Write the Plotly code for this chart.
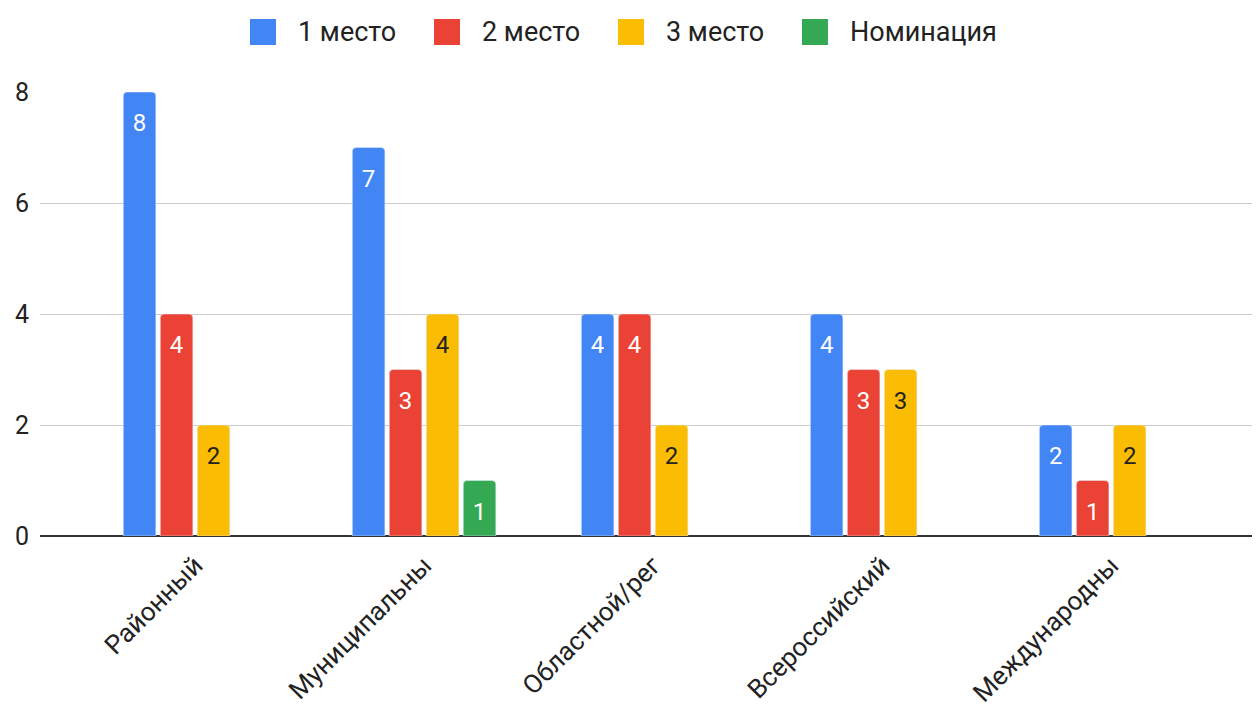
import plotly.graph_objects as go

# levels of the contests (x categories)
levels = ["Районный", "Муниципальны", "Областной/рег", "Всероссийский", "Международны"]

# places per level
first_place = [8, 7, 4, 4, 2]
second_place = [4, 3, 4, 3, 1]
third_place = [2, 4, 2, 3, 2]
nomination = [None, 1, None, None, None]

series_names = ["1 место", "2 место", "3 место", "Номинация"]
series_values = [first_place, second_place, third_place, nomination]
series_colors = ["#4285F4", "#EA4335", "#FBBC04", "#34A853"]
label_colors = ["white", "white", "#222222", "white"]

y_ticks = [0, 2, 4, 6, 8]

FONT = "Roboto, Arial, sans-serif"

# the page body has an 8px margin, so the figure is a bit smaller than the window
W, H = 1252, 702
ML, MR, MT, MB = 32, 0, 84, 174
PW, PH = W - ML - MR, H - MT - MB


def to_paper(px, py):
    """ window pixel -> paper coords """
    return (px - 8 - ML) / PW, 1 - (py - 8 - MT) / PH


fig = go.Figure()

for name, values, color, text_color in zip(series_names, series_values, series_colors, label_colors):
    # a tiny first line pushes the value a bit down from the top of the bar
    labels = ["<span style='font-size:4px'>\u00a0</span><br>%d" % v if v is not None else "" for v in values]
    fig.add_trace(go.Bar(
        x=levels, y=values, name=name,
        marker=dict(color=color, cornerradius=4),
        text=labels,
        textposition="inside",
        insidetextanchor="end",
        textfont=dict(family=FONT, size=24, color=text_color),
        textangle=0,
        showlegend=False,
    ))

# legend drawn by hand: big rounded squares like the google one
shapes = []
annotations = []
for i, (name, color) in enumerate(zip(series_names, series_colors)):
    sx = 250 + i * 184
    x0, y0 = to_paper(sx, 45)
    x1, y1 = to_paper(sx + 26, 19)
    shapes.append(dict(type="rect", xref="paper", yref="paper",
                       x0=x0, x1=x1, y0=y0, y1=y1,
                       fillcolor=color, line=dict(width=0), layer="above"))
    tx, ty = to_paper(sx + 46, 32)
    annotations.append(dict(text=name, xref="paper", yref="paper", x=tx, y=ty,
                            xanchor="left", yanchor="middle", showarrow=False,
                            font=dict(family=FONT, size=27, color="#222222")))

fig.update_layout(
    width=W, height=H,
    margin=dict(l=ML, r=MR, t=MT, b=MB),
    paper_bgcolor="white",
    plot_bgcolor="white",
    barmode="group",
    bargap=0.354,
    bargroupgap=0.12,
    uniformtext=dict(minsize=24, mode="show"),
    font=dict(family=FONT, size=24, color="#222222"),
    showlegend=False,
    shapes=shapes,
    annotations=annotations,
    xaxis=dict(
        range=[-0.677, 4.65],
        tickangle=-45,
        tickfont=dict(family=FONT, size=26, color="#222222"),
        showgrid=False,
        showline=False,
        zeroline=False,
        ticklabelstandoff=8,
    ),
    yaxis=dict(
        range=[0, 8],
        tickvals=y_ticks,
        tickfont=dict(family=FONT, size=25, color="#222222"),
        showgrid=True,
        gridcolor="#cccccc",
        gridwidth=1,
        zeroline=True,
        zerolinecolor="#333333",
        zerolinewidth=2,
        ticklabelstandoff=10,
    ),
)

fig.write_html("out.html")
